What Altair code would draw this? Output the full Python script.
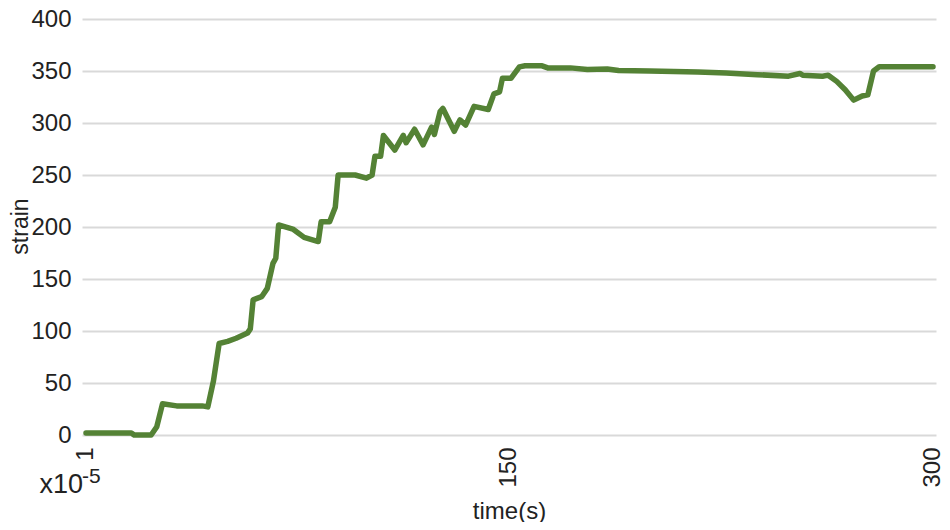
import altair as alt
import pandas as pd

# time (s) and strain breakpoints
time_s = [1, 17, 18, 24, 26, 28, 33, 42, 44, 46, 48, 51, 54, 58, 59, 60, 63, 65, 67, 68, 69,
          74, 78, 83, 84, 87, 89, 90, 96, 100, 102, 103, 105, 106, 110, 113, 114, 117, 120,
          123, 124, 126, 127, 131, 133, 135, 138, 143, 145, 147, 148, 151, 154, 156, 162,
          164, 172, 178, 185, 189, 200, 217, 227, 238, 249, 253, 254, 261, 263, 266, 269, 272,
          275, 277, 279, 281, 300]
strain = [2, 2, 0, 0, 8, 30, 28, 28, 27, 52, 88, 90, 93, 98, 102, 130, 133, 141, 165, 170, 202,
          198, 190, 186, 205, 205, 219, 250, 250, 247, 250, 268, 268, 288, 274, 288, 281, 294, 279,
          296, 289, 311, 314, 292, 303, 298, 316, 313, 328, 330, 343, 343, 354, 355, 355,
          353, 353, 351.5, 352, 350.5, 350, 349, 348, 346.5, 345, 347.6, 346, 345, 346, 340, 332,
          322, 326, 327, 350, 354, 354]
x_ticks = [1, 150, 300]
y_ticks = [0, 50, 100, 150, 200, 250, 300, 350, 400]

df = pd.DataFrame({"time": time_s, "strain": strain})

FONT = "Liberation Sans"
TXT = "#222222"

line = alt.Chart(df).mark_line(color="#548235", strokeWidth=5.5, strokeJoin="round", strokeCap="round").encode(
    x=alt.X("time:Q",
            scale=alt.Scale(domain=[-0.41, 301.06], nice=False, zero=False),
            axis=alt.Axis(values=x_ticks, title="time(s)", labelAngle=270, grid=False,
                          domain=False, ticks=False, labelPadding=12,
                          labelFont=FONT, labelFontSize=24, labelColor=TXT,
                          titleFont=FONT, titleFontSize=24, titleFontWeight="normal",
                          titleColor=TXT, titleBaseline="alphabetic", titleY=83)),
    y=alt.Y("strain:Q",
            scale=alt.Scale(domain=[0, 400], nice=False),
            axis=alt.Axis(values=y_ticks, title="strain", grid=True, gridColor="#d9d9d9",
                          gridWidth=2, domain=False, ticks=False, labelPadding=11,
                          labelFont=FONT, labelFontSize=24, labelColor=TXT,
                          titleFont=FONT, titleFontSize=23, titleFontWeight="normal",
                          titleColor=TXT, titleBaseline="alphabetic", titleX=-55, titleY=207)),
)

mult = alt.Chart(pd.DataFrame({"t": ["x10"]})).mark_text(
    font=FONT, fontSize=27, align="right", baseline="alphabetic", color=TXT
).encode(text="t:N", x=alt.value(1), y=alt.value(474))

sup = alt.Chart(pd.DataFrame({"t": ["-5"]})).mark_text(
    font=FONT, fontSize=21, align="left", baseline="alphabetic", color=TXT
).encode(text="t:N", x=alt.value(0), y=alt.value(464))

chart = alt.layer(line, mult, sup).properties(
    width=854, height=416,
    autosize=alt.AutoSizeParams(type="none"),
    padding={"left": 74, "top": 11, "right": 6, "bottom": 87},
).configure_view(stroke=None)

chart.save("out.html", embed_options={"renderer": "svg", "actions": False})
